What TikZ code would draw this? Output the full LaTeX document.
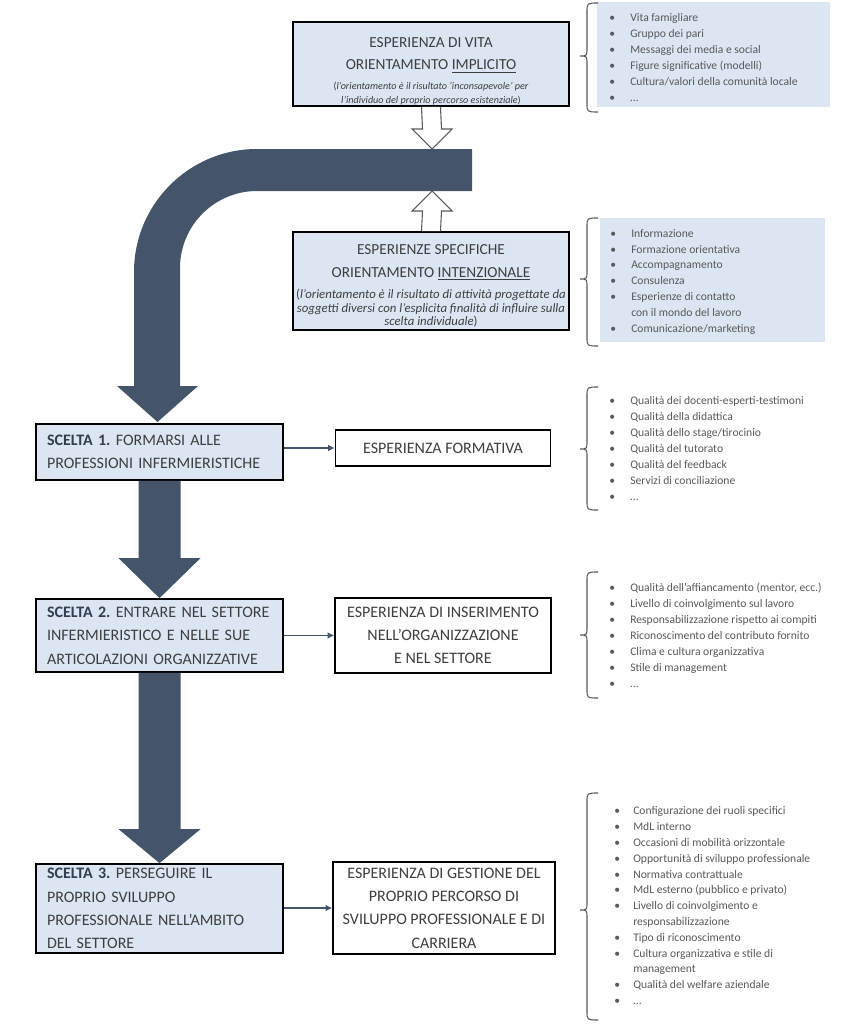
\documentclass[tikz,border=0pt]{standalone}
\usepackage{fontspec}
\setmainfont{Carlito}
\usetikzlibrary{calc,arrows.meta}
\definecolor{boxblue}{HTML}{DCE6F2}
\definecolor{arrowdark}{HTML}{44546A}
\definecolor{txt}{HTML}{3F3F3F}
\definecolor{ltxt}{HTML}{595959}
\definecolor{boldtxt}{HTML}{333F50}
\def\pu{0.75pt}
\newcommand\bl{\makebox[15.75pt][l]{\textbullet}}
\newcommand\blb{\makebox[14.25pt][l]{\textbullet}}
\newcommand\tfont{\fontsize{11.5}{17}\selectfont}
\newcommand\sfontt{\fontsize{12}{17.5}\selectfont}
\newcommand\ifont{\fontsize{7.6}{10}\selectfont}
\newcommand\ifontb{\fontsize{9.6}{10}\selectfont}
\newcommand\lfont{\fontsize{8.7}{12}\selectfont}
\newcommand\darr[3]{%
  \fill[arrowdark] ($(#1)+(-21,0)$) -- ($(#2)+(-21,-#3)$) -- ($(#2)+(-41,-#3)$) -- (#2)
    -- ($(#2)+(41,-#3)$) -- ($(#2)+(21,-#3)$) -- ($(#1)+(21,0)$) -- cycle;}
\frenchspacing
\begin{document}
\begin{tikzpicture}[x=0.75pt,y=-0.75pt,
  bluebox/.style={draw=black, line width=1.3pt, fill=boxblue, text=txt, inner sep=0pt},
  boxtext/.style={inner sep=0pt, text=txt},
  whitebox/.style={draw=black, line width=1pt, fill=white, text=txt, inner sep=0pt, align=center, font=\sfontt},
  listbg/.style={fill=boxblue, draw=none},
  listtxt/.style={anchor=north west, align=left, inner sep=0pt, text=ltxt, font=\lfont},
  brace/.style={draw=ltxt, line width=0.8pt},
  conn/.style={draw=arrowdark, line width=1pt, -{Latex[length=5pt,width=5pt]}},
  hollow/.style={draw=ltxt, line width=0.8pt, fill=white}
]
\useasboundingbox (0,0) rectangle (857,1024);

% ---------- big curved arrow ----------
\fill[arrowdark] (472,149) -- (257,149) .. controls (189.1,149) and (134,204.1) .. (134,272)
  -- (134,386) -- (117,386) -- (157.5,422) -- (198,386) -- (180,386) -- (180,268)
  .. controls (180,225.5) and (214.5,191) .. (257,191) -- (472,191) -- cycle;
\coordinate (bandtop) at (432,149);
\coordinate (bandbot) at (432,191);

% ---------- top boxes ----------
\node[bluebox, minimum width=276*\pu, minimum height=84*\pu] (vita) at (431,64) {};
\node[boxtext] (vitatext) at (431,71) {\parbox{202pt}{\centering
  \tfont ESPERIENZA DI VITA\par ORIENTAMENTO \underline{IMPLICITO}\par\vspace{5pt}
  \ifont (\textit{l’orientamento è il risultato ‘inconsapevole’ per}\\
  \textit{l’individuo del proprio percorso esistenziale})\par}};
\node[bluebox, minimum width=276*\pu, minimum height=98*\pu] (int) at (431,281) {};
\node[boxtext] (inttext) at (431,286) {\parbox{206pt}{\centering
  \tfont ESPERIENZE SPECIFICHE\par ORIENTAMENTO \underline{INTENZIONALE}\par\vspace{6pt}
  \ifontb (\textit{l’orientamento è il risultato di attività progettate da}\\
  \textit{soggetti diversi con l’esplicita finalità di influire sulla}\\
  \textit{scelta individuale})\par}};

% hollow arrows
\draw[hollow] ($(vita.south)+(-9.5,0)$) -- ($(bandtop)+(-9.5,-20)$) -- ($(bandtop)+(-20,-20)$) -- (bandtop)
  -- ($(bandtop)+(20,-20)$) -- ($(bandtop)+(9.5,-20)$) -- ($(vita.south)+(9.5,0)$);
\draw[hollow] ($(int.north)+(-9.5,0)$) -- ($(bandbot)+(-9.5,20)$) -- ($(bandbot)+(-20,20)$) -- (bandbot)
  -- ($(bandbot)+(20,20)$) -- ($(bandbot)+(9.5,20)$) -- ($(int.north)+(9.5,0)$);

% ---------- scelta boxes ----------
\node[bluebox, minimum width=247*\pu, minimum height=56*\pu, text width=225*\pu, align=left, font=\sfontt] (s1) at (159.5,452)
  {\textbf{\color{boldtxt}SCELTA 1.} FORMARSI ALLE\\PROFESSIONI INFERMIERISTICHE};
\node[bluebox, minimum width=247*\pu, minimum height=73*\pu, text width=225*\pu, align=left, font=\sfontt] (s2) at (159.5,635.5)
  {\textbf{\color{boldtxt}SCELTA 2.} ENTRARE NEL SETTORE\\INFERMIERISTICO E NELLE SUE\\ARTICOLAZIONI ORGANIZZATIVE};
\node[bluebox, minimum width=247*\pu, minimum height=89*\pu, text width=225*\pu, align=left, font=\sfontt] (s3) at (159.5,908.5)
  {\textbf{\color{boldtxt}SCELTA 3.} PERSEGUIRE IL\\PROPRIO SVILUPPO\\PROFESSIONALE NELL’AMBITO\\DEL SETTORE};

\darr{s1.south}{s2.north}{40}
\darr{s2.south}{s3.north}{34}

% ---------- right boxes ----------
\node[whitebox, minimum width=215*\pu, minimum height=36*\pu] (ef) at (443,448) {ESPERIENZA FORMATIVA};
\node[whitebox, minimum width=216*\pu, minimum height=75*\pu] (ei) at (443,635.5)
  {ESPERIENZA DI INSERIMENTO\\NELL’ORGANIZZAZIONE\\E NEL SETTORE};
\node[whitebox, minimum width=222*\pu, minimum height=92*\pu] (eg) at (444,908)
  {ESPERIENZA DI GESTIONE DEL\\PROPRIO PERCORSO DI\\SVILUPPO PROFESSIONALE E DI\\CARRIERA};

\draw[conn] (s1.east |- ef.west) -- (ef.west);
\draw[conn] (s2.east |- ei.west) -- (ei.west);
\draw[conn] (s3.east |- eg.west) -- (eg.west);

% ---------- lists ----------
\fill[listbg] (597,2) rectangle (830,107);
\fill[listbg] (600,218) rectangle (825,342);

\node[listtxt] (l1) at (609,13) {\bl Vita famigliare\\\bl Gruppo dei pari\\\bl Messaggi dei media e social\\
  \bl Figure significative (modelli)\\\bl Cultura/valori della comunità locale\\\bl …};
\node[listtxt, font=\fontsize{8.7}{11.85}\selectfont] (l2) at (610,229) {\bl Informazione\\\bl Formazione orientativa\\\bl Accompagnamento\\
  \bl Consulenza\\\bl Esperienze di contatto\\\hspace*{15.75pt}con il mondo del lavoro\\\bl Comunicazione/marketing};
\node[listtxt] (l3) at (609,396) {\bl Qualità dei docenti-esperti-testimoni\\\bl Qualità della didattica\\
  \bl Qualità dello stage/tirocinio\\\bl Qualità del tutorato\\\bl Qualità del feedback\\\bl Servizi di conciliazione\\\bl …};
\node[listtxt] (l4) at (609,583) {\bl Qualità dell’affiancamento (mentor, ecc.)\\\bl Livello di coinvolgimento sul lavoro\\
  \bl Responsabilizzazione rispetto ai compiti\\\bl Riconoscimento del contributo fornito\\
  \bl Clima e cultura organizzativa\\\bl Stile di management\\\bl …};
\node[listtxt, font=\fontsize{8.7}{11.85}\selectfont] (l5) at (614,806.5) {\blb Configurazione dei ruoli specifici\\\blb MdL interno\\
  \blb Occasioni di mobilità orizzontale\\\blb Opportunità di sviluppo professionale\\
  \blb Normativa contrattuale\\\blb MdL esterno (pubblico e privato)\\
  \blb Livello di coinvolgimento e\\\hspace*{14.25pt}responsabilizzazione\\\blb Tipo di riconoscimento\\
  \blb Cultura organizzativa e stile di\\\hspace*{14.25pt}management\\\blb Qualità del welfare aziendale\\\blb …};

% ---------- braces ----------
\foreach \t/\m/\b in {3/56/112, 218/279/346, 387/449/510, 572/635/698, 793/910/1020}{
  \draw[brace] (598,\t) .. controls (587,\t) .. (587,\t+9) -- (587,\m-8) .. controls (587,\m) .. (580,\m)
    .. controls (587,\m) .. (587,\m+8) -- (587,\b-9) .. controls (587,\b) .. (598,\b);
}
\end{tikzpicture}
\end{document}
